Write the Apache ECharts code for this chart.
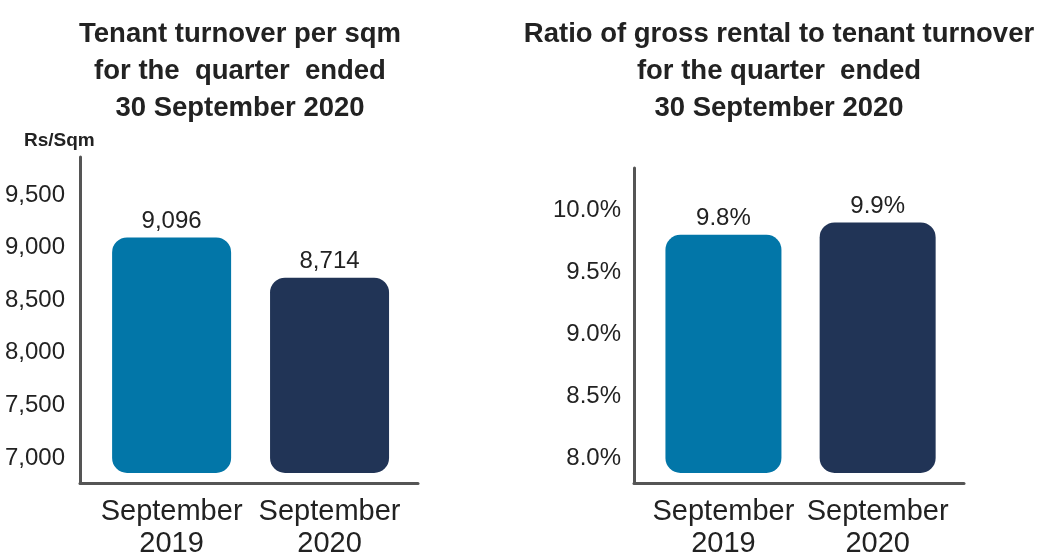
<!DOCTYPE html>
<html>
<head>
<meta charset="utf-8">
<script src="https://cdn.jsdelivr.net/npm/echarts@6/dist/echarts.min.js"></script>
<style>
  html, body { margin: 0; padding: 0; background: #fff; }
  #chart { width: 1054px; height: 553px; }
</style>
</head>
<body>
<div id="chart"></div>
<script>
const categories = ['September\n2019', 'September\n2020'];
const turnoverValues = [9096, 8714];
const ratioValues = [9.8, 9.9];
const turnoverTicks = [7000, 7500, 8000, 8500, 9000, 9500];
const ratioTicks = [8.0, 8.5, 9.0, 9.5, 10.0];
const barColors = ['#0276A8', '#213456'];

const font = "'Liberation Sans', Arial, Helvetica, sans-serif";
const textColor = '#222';

const chart = echarts.init(document.getElementById('chart'));

// y range of each panel (value at bar bottom / value at axis top)
const turnoverMin = 6857, turnoverMax = 9861;
const ratioMin = 7.879, ratioMax = 10.339;

function dataXAxis(gridIndex) {
  return {
    type: 'value',
    gridIndex: gridIndex,
    min: -0.58,
    max: 1.56,
    axisLine: { show: false },
    axisTick: { show: false },
    splitLine: { show: false },
    axisLabel: {
      customValues: [0, 1],
      formatter: v => categories[Math.round(v)],
      fontFamily: font,
      fontSize: 29,
      lineHeight: 32,
      margin: 23,
      color: textColor
    }
  };
}

// empty axes, only used to draw the L-shaped frame below the bars
function frameAxis(gridIndex) {
  return {
    type: 'value',
    gridIndex: gridIndex,
    min: 0,
    max: 1,
    axisLine: { show: true, onZero: false, lineStyle: { color: '#555', width: 3, cap: 'round' } },
    axisTick: { show: false },
    axisLabel: { show: false },
    splitLine: { show: false }
  };
}

const titleStyle = { fontFamily: font, fontSize: 27.5, fontWeight: 'bold', lineHeight: 37, color: textColor };

const option = {
  backgroundColor: '#fff',
  animation: false,
  title: [
    {
      text: 'Tenant turnover per sqm\nfor the  quarter  ended\n30 September 2020',
      left: 240,
      top: 16,
      padding: 0,
      textAlign: 'center',
      textStyle: titleStyle
    },
    {
      text: 'Ratio of gross rental to tenant turnover\nfor the quarter  ended\n30 September 2020',
      left: 779,
      top: 16,
      padding: 0,
      textAlign: 'center',
      textStyle: titleStyle
    },
    {
      text: 'Rs/Sqm',
      left: 24,
      top: 131,
      padding: 0,
      textStyle: { fontFamily: font, fontSize: 19, fontWeight: 'bold', color: textColor }
    }
  ],
  grid: [
    { left: 80, right: 636, top: 157, bottom: 80, outerBoundsMode: 'none' },
    { left: 80, right: 636, top: 157, bottom: 70, outerBoundsMode: 'none' },
    { left: 634, right: 90, top: 168, bottom: 80, outerBoundsMode: 'none' },
    { left: 634, right: 90, top: 168, bottom: 70, outerBoundsMode: 'none' }
  ],
  xAxis: [
    dataXAxis(0),
    frameAxis(1),
    dataXAxis(2),
    frameAxis(3)
  ],
  yAxis: [
    {
      type: 'value',
      gridIndex: 0,
      min: turnoverMin,
      max: turnoverMax,
      axisLine: { show: false },
      axisTick: { show: false },
      splitLine: { show: false },
      axisLabel: {
        customValues: turnoverTicks,
        formatter: v => v.toLocaleString('en-US'),
        fontFamily: font,
        fontSize: 24,
        margin: 15,
        color: textColor
      }
    },
    frameAxis(1),
    {
      type: 'value',
      gridIndex: 2,
      min: ratioMin,
      max: ratioMax,
      axisLine: { show: false },
      axisTick: { show: false },
      splitLine: { show: false },
      axisLabel: {
        customValues: ratioTicks,
        formatter: v => v.toFixed(1) + '%',
        fontFamily: font,
        fontSize: 24,
        margin: 13,
        color: textColor
      }
    },
    frameAxis(3)
  ],
  series: [
    {
      type: 'bar',
      xAxisIndex: 0,
      yAxisIndex: 0,
      barWidth: 119,
      startValue: turnoverMin,
      data: turnoverValues.map((v, i) => ({ value: [i, v], itemStyle: { color: barColors[i] } })),
      itemStyle: { borderRadius: 15 },
      label: {
        show: true,
        position: 'top',
        distance: 4,
        formatter: p => p.value[1].toLocaleString('en-US'),
        fontFamily: font,
        fontSize: 24,
        color: textColor
      }
    },
    {
      type: 'bar',
      xAxisIndex: 2,
      yAxisIndex: 2,
      barWidth: 116,
      startValue: ratioMin,
      data: ratioValues.map((v, i) => ({ value: [i, v], itemStyle: { color: barColors[i] } })),
      itemStyle: { borderRadius: 15 },
      label: {
        show: true,
        position: 'top',
        distance: 4,
        formatter: p => p.value[1].toFixed(1) + '%',
        fontFamily: font,
        fontSize: 24,
        color: textColor
      }
    }
  ]
};

chart.setOption(option);
</script>
</body>
</html>
